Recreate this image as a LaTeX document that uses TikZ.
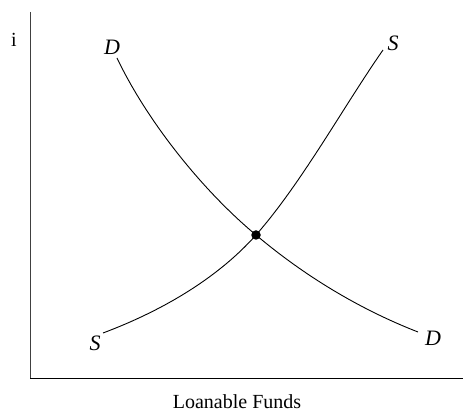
\documentclass[tikz,border=0pt]{standalone}
\usepackage{fontspec}
\setmainfont{Liberation Serif}
\begin{document}
\begin{tikzpicture}[x=1pt,y=1pt,
  curve/.style={line width=0.9pt,black},
  axisline/.style={line width=1pt},
  lbl/.style={font=\fontsize{22}{22}\selectfont\itshape,inner sep=0pt},
  txt/.style={font=\fontsize{20}{20}\selectfont,inner sep=0pt}]
\useasboundingbox (0,0) rectangle (475,413);
% axes (y up: y' = 413 - y)
\coordinate (top) at (30,401);
\coordinate (origin) at (30,34);
\coordinate (right) at (463,34);
\draw[axisline,black!75] (top) -- (origin);
\draw[axisline] (origin) -- (right);
\node[txt] (ilabel) at (14,373) {i};
\node[txt] (xlabel) at (237,11) {Loanable Funds};
% curves
\coordinate (d1) at (117,355);
\coordinate (d2) at (418,81);
\coordinate (s1) at (103,80);
\coordinate (s2) at (383,363);
\coordinate (eqc) at (256,178);
\draw[curve] (d1) .. controls (147,292) and (202,223) .. (eqc)
                  .. controls (304,137.5) and (359,104) .. (d2);
\draw[curve] (s1) .. controls (159,101) and (216,133) .. (eqc)
                  .. controls (302,230.5) and (343,305.6) .. (s2);
\node[circle,fill=black,inner sep=0pt,minimum size=9.5pt] (eq) at (eqc) {};
\node[lbl] (dtop) at (112,366) {D};
\node[lbl] (stop) at (393,370) {S};
\node[lbl] (sbot) at (95,70) {S};
\node[lbl] (dbot) at (433,75) {D};
\end{tikzpicture}
\end{document}
